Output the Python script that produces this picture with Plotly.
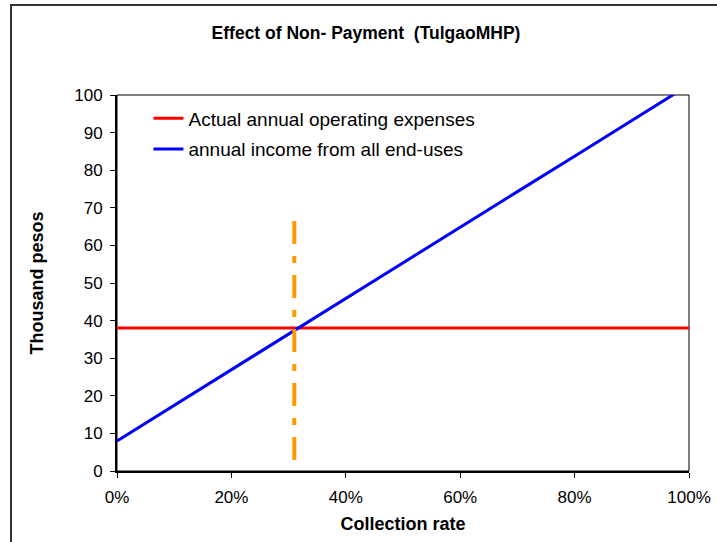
import plotly.graph_objects as go

# Data
collection_rate = [0.0, 0.1, 0.2, 0.3, 0.4, 0.5, 0.6, 0.7, 0.8, 0.9, 1.0]
annual_income = [8.0, 17.5, 26.9, 36.4, 45.9, 55.3, 64.8, 74.3, 83.7, 93.2, 102.7]
expense_rate = [0.0, 1.0]
operating_expenses = [38.0, 38.0]
breakeven_rate = [0.31, 0.31]
breakeven_marker = [66.5, 2.5]

y_ticks = list(range(0, 101, 10))
x_ticks = [0, 0.2, 0.4, 0.6, 0.8, 1.0]
x_tick_labels = ["0%", "20%", "40%", "60%", "80%", "100%"]

FONT = "Liberation Sans, Arial, sans-serif"

fig = go.Figure()
fig.add_trace(go.Scatter(
    x=expense_rate, y=operating_expenses, mode="lines",
    name="Actual annual operating expenses", legendgroup="a",
    line=dict(color="#FF0000", width=3),
))
fig.add_trace(go.Scatter(
    x=collection_rate, y=annual_income, mode="lines",
    name="annual income from all end-uses", legendgroup="b",
    line=dict(color="#0000FF", width=3),
))
fig.add_trace(go.Scatter(
    x=breakeven_rate, y=breakeven_marker, mode="lines",
    showlegend=False,
    line=dict(color="#FF9900", width=4, dash="23px,12px,7px,12px"),
))

fig.update_layout(
    width=717, height=542,
    margin=dict(l=117, r=28, t=95, b=71),
    paper_bgcolor="white", plot_bgcolor="white",
    font=dict(family=FONT, size=17, color="black"),
    title=dict(
        text="<b>Effect of Non- Payment  (TulgaoMHP)</b>",
        x=366 / 717, xref="container", xanchor="center",
        y=1 - 33 / 542, yref="container", yanchor="middle",
        font=dict(family=FONT, size=17.5, color="black"),
    ),
    showlegend=True,
    legend=dict(
        x=0.055, xanchor="left", y=0.988, yanchor="top",
        bgcolor="rgba(0,0,0,0)", borderwidth=0,
        font=dict(family=FONT, size=19, color="black"),
        traceorder="grouped", tracegroupgap=3,
    ),
    xaxis=dict(
        range=[0, 1], tickvals=x_ticks, ticktext=x_tick_labels,
        ticks="outside", ticklen=5, tickwidth=1, tickcolor="black",
        showline=True, linecolor="black", linewidth=2,
        showgrid=False, zeroline=False, automargin=False,
        ticklabelstandoff=5,
        tickfont=dict(family=FONT, size=17, color="black"),
        title=dict(text="<b>Collection rate</b>", standoff=11,
                   font=dict(family=FONT, size=18, color="black")),
    ),
    yaxis=dict(
        range=[0, 100], tickvals=y_ticks,
        ticks="outside", ticklen=5, tickwidth=1, tickcolor="black",
        showline=True, linecolor="black", linewidth=2,
        showgrid=False, zeroline=False, automargin=False,
        ticklabelstandoff=4,
        tickfont=dict(family=FONT, size=17, color="black"),
        title=dict(text="<b>Thousand pesos</b>", standoff=26,
                   font=dict(family=FONT, size=18, color="black")),
    ),
    shapes=[
        dict(type="rect", xref="paper", yref="paper", x0=0, x1=1, y0=0, y1=1,
             line=dict(color="black", width=1), fillcolor="rgba(0,0,0,0)", layer="below"),
        dict(type="rect", xref="paper", yref="paper",
             x0=(11 - 117) / 572, x1=1.2, y0=-0.4, y1=(471 - 5) / 376,
             line=dict(color="#333333", width=2), fillcolor="rgba(0,0,0,0)"),
    ],
)

fig.write_html("out.html", config={"displayModeBar": False},
               post_script="document.body.style.margin='0px';")
